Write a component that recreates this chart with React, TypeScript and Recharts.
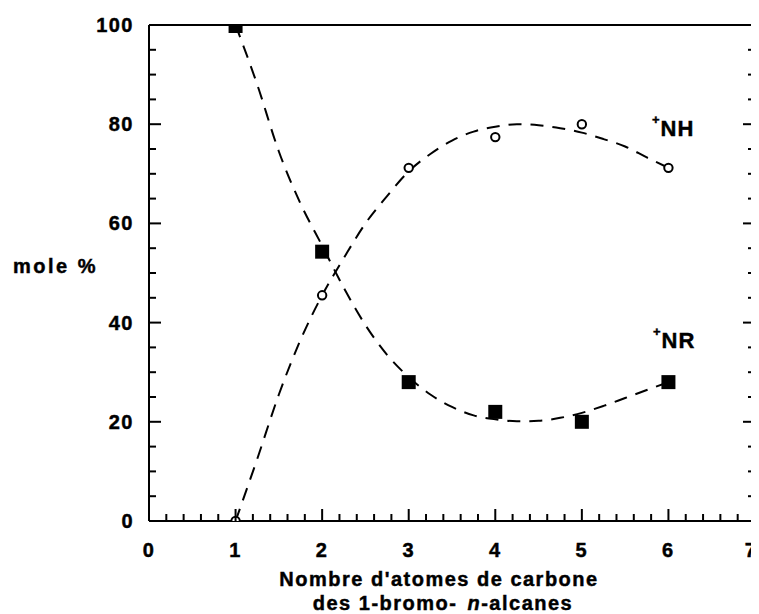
import React from "react";
import { ComposedChart, Line, Scatter, XAxis, YAxis } from "recharts";

// measured points (number of carbon atoms vs mole %)
const carbons = [1, 2, 3, 4, 5, 6];
const nrValues = [99.8, 54.3, 28, 22, 20, 28];
const nhValues = [0, 45.5, 71.2, 77.4, 80, 71.2];

// dashed fit curves
const curveX = [1, 1.25, 1.5, 1.75, 2, 2.25, 2.5, 2.75, 3, 3.25, 3.5, 3.75, 4, 4.25, 4.5, 4.75, 5, 5.25, 5.5, 5.75, 6];
const nrCurveY = [100, 88, 74.5, 64, 55.5, 47, 39.5, 33.5, 29, 25.5, 23, 21.3, 20.5, 20.1, 20.2, 20.8, 21.8, 23.2, 24.8, 26.4, 28];
const nhCurveY = [0, 12.5, 25.5, 36.5, 45.5, 53, 60, 65.5, 70.5, 74, 76.7, 78.5, 79.5, 80, 79.8, 79.2, 78.3, 77, 75.5, 73.3, 71.2];

const xLabels = [0, 1, 2, 3, 4, 5, 6, 7];
const yLabels = [0, 20, 40, 60, 80, 100];
const xTicks = Array.from({ length: 36 }, (_, i) => i / 5);
const yTicks = Array.from({ length: 21 }, (_, i) => i * 5);

const nrPoints = carbons.map((x, i) => ({ x, y: nrValues[i] }));
const nhPoints = carbons.map((x, i) => ({ x, y: nhValues[i] }));
const nrCurve = curveX.map((x, i) => ({ x, y: nrCurveY[i] }));
const nhCurve = curveX.map((x, i) => ({ x, y: nhCurveY[i] }));

const FONT = "'Liberation Sans', Arial, sans-serif";
const MAJOR = 12;
const MINOR = 7;

// bold text, thickened a little with a thin stroke
const txt = {
  fontFamily: FONT,
  fontWeight: 700,
  fontSize: 20,
  fill: "#000",
  stroke: "#000",
  strokeWidth: 0.45,
  letterSpacing: 1.5,
};

const BottomTick = (props: any) => {
  const { x, y, payload } = props;
  const v = payload.value;
  const major = xLabels.includes(v);
  // last label sits against the page edge
  const lx = v === 7 ? x - 4 : x;
  return (
    <g>
      <line x1={x} y1={y} x2={x} y2={y - (major ? MAJOR : MINOR)} stroke="#000" strokeWidth={2} />
      {major && (
        <text x={lx} y={y + 36} textAnchor="middle" style={txt}>
          {v}
        </text>
      )}
    </g>
  );
};

const TopTick = (props: any) => {
  const { x, y, payload } = props;
  const major = xLabels.includes(payload.value);
  return <line x1={x} y1={y} x2={x} y2={y + (major ? MAJOR : MINOR)} stroke="#000" strokeWidth={2} />;
};

const LeftTick = (props: any) => {
  const { x, y, payload } = props;
  const v = payload.value;
  const major = yLabels.includes(v);
  return (
    <g>
      <line x1={x} y1={y} x2={x + (major ? MAJOR : MINOR)} y2={y} stroke="#000" strokeWidth={2} />
      {major && (
        <text x={x - 15} y={y + 7} textAnchor="end" style={txt}>
          {v}
        </text>
      )}
    </g>
  );
};

const RightTick = (props: any) => {
  const { x, y, payload } = props;
  const major = yLabels.includes(payload.value);
  return <line x1={x} y1={y} x2={x - (major ? MAJOR : MINOR)} y2={y} stroke="#000" strokeWidth={2} />;
};

const Square = (p: any) => <rect x={p.cx - 7} y={p.cy - 7} width={14} height={14} fill="#000" />;
const Ring = (p: any) => <circle cx={p.cx} cy={p.cy} r={4.2} fill="#fff" stroke="#000" strokeWidth={2} />;

const axisLine = { stroke: "#000", strokeWidth: 2 };

export default function App() {
  return (
    <div style={{ position: "relative", width: 751, height: 606 }}>
      <ComposedChart width={751} height={606} margin={{ top: 0, right: 0, bottom: 0, left: 0 }}>
        <XAxis
          dataKey="x"
          type="number"
          domain={[0, 7]}
          ticks={xTicks}
          interval={0}
          allowDataOverflow
          height={93}
          tickSize={0}
          tickMargin={0}
          tickLine={false}
          axisLine={axisLine}
          tick={<BottomTick />}
        />
        <XAxis
          xAxisId="top"
          orientation="top"
          type="number"
          domain={[0, 7]}
          ticks={xTicks}
          interval={0}
          allowDataOverflow
          height={17}
          tickSize={0}
          tickMargin={0}
          tickLine={false}
          axisLine={axisLine}
          tick={<TopTick />}
        />
        <YAxis
          type="number"
          domain={[0, 100]}
          ticks={yTicks}
          interval={0}
          allowDataOverflow
          width={141}
          tickSize={0}
          tickMargin={0}
          tickLine={false}
          axisLine={axisLine}
          tick={<LeftTick />}
        />
        <YAxis
          yAxisId="right"
          orientation="right"
          type="number"
          domain={[0, 100]}
          ticks={yTicks}
          interval={0}
          allowDataOverflow
          width={4}
          tickSize={0}
          tickMargin={0}
          tickLine={false}
          axisLine={axisLine}
          tick={<RightTick />}
        />
        <Line
          data={nrCurve}
          dataKey="y"
          type="monotone"
          stroke="#000"
          strokeWidth={2}
          strokeDasharray="13 9"
          dot={false}
          activeDot={false}
          isAnimationActive={false}
        />
        <Line
          data={nhCurve}
          dataKey="y"
          type="monotone"
          stroke="#000"
          strokeWidth={2}
          strokeDasharray="13 9"
          dot={false}
          activeDot={false}
          isAnimationActive={false}
        />
        <Scatter data={nrPoints} dataKey="y" shape={Square} isAnimationActive={false} />
        <Scatter data={nhPoints} dataKey="y" shape={Ring} isAnimationActive={false} />
      </ComposedChart>
      <svg
        width={751}
        height={606}
        style={{ position: "absolute", left: 0, top: 0, pointerEvents: "none", overflow: "visible" }}
      >
        <text x={5} y={265} style={{ ...txt, letterSpacing: 2.5 }}>
          mole %
        </text>
        <text x={431} y={578} textAnchor="middle" style={txt}>
          Nombre d'atomes de carbone
        </text>
        <text x={435} y={602} textAnchor="middle" style={txt}>
          des 1-bromo-
          <tspan dx={10} fontStyle="italic">n</tspan>
          -alcanes
        </text>
        <text x={644} y={128} style={{ ...txt, fontSize: 22, letterSpacing: 1 }}>
          <tspan fontSize={13} dy={-12.5}>+</tspan>
          <tspan dy={12.5}>NH</tspan>
        </text>
        <text x={645} y={340} style={{ ...txt, fontSize: 22, letterSpacing: 1 }}>
          <tspan fontSize={13} dy={-12.5}>+</tspan>
          <tspan dy={12.5}>NR</tspan>
        </text>
      </svg>
    </div>
  );
}
